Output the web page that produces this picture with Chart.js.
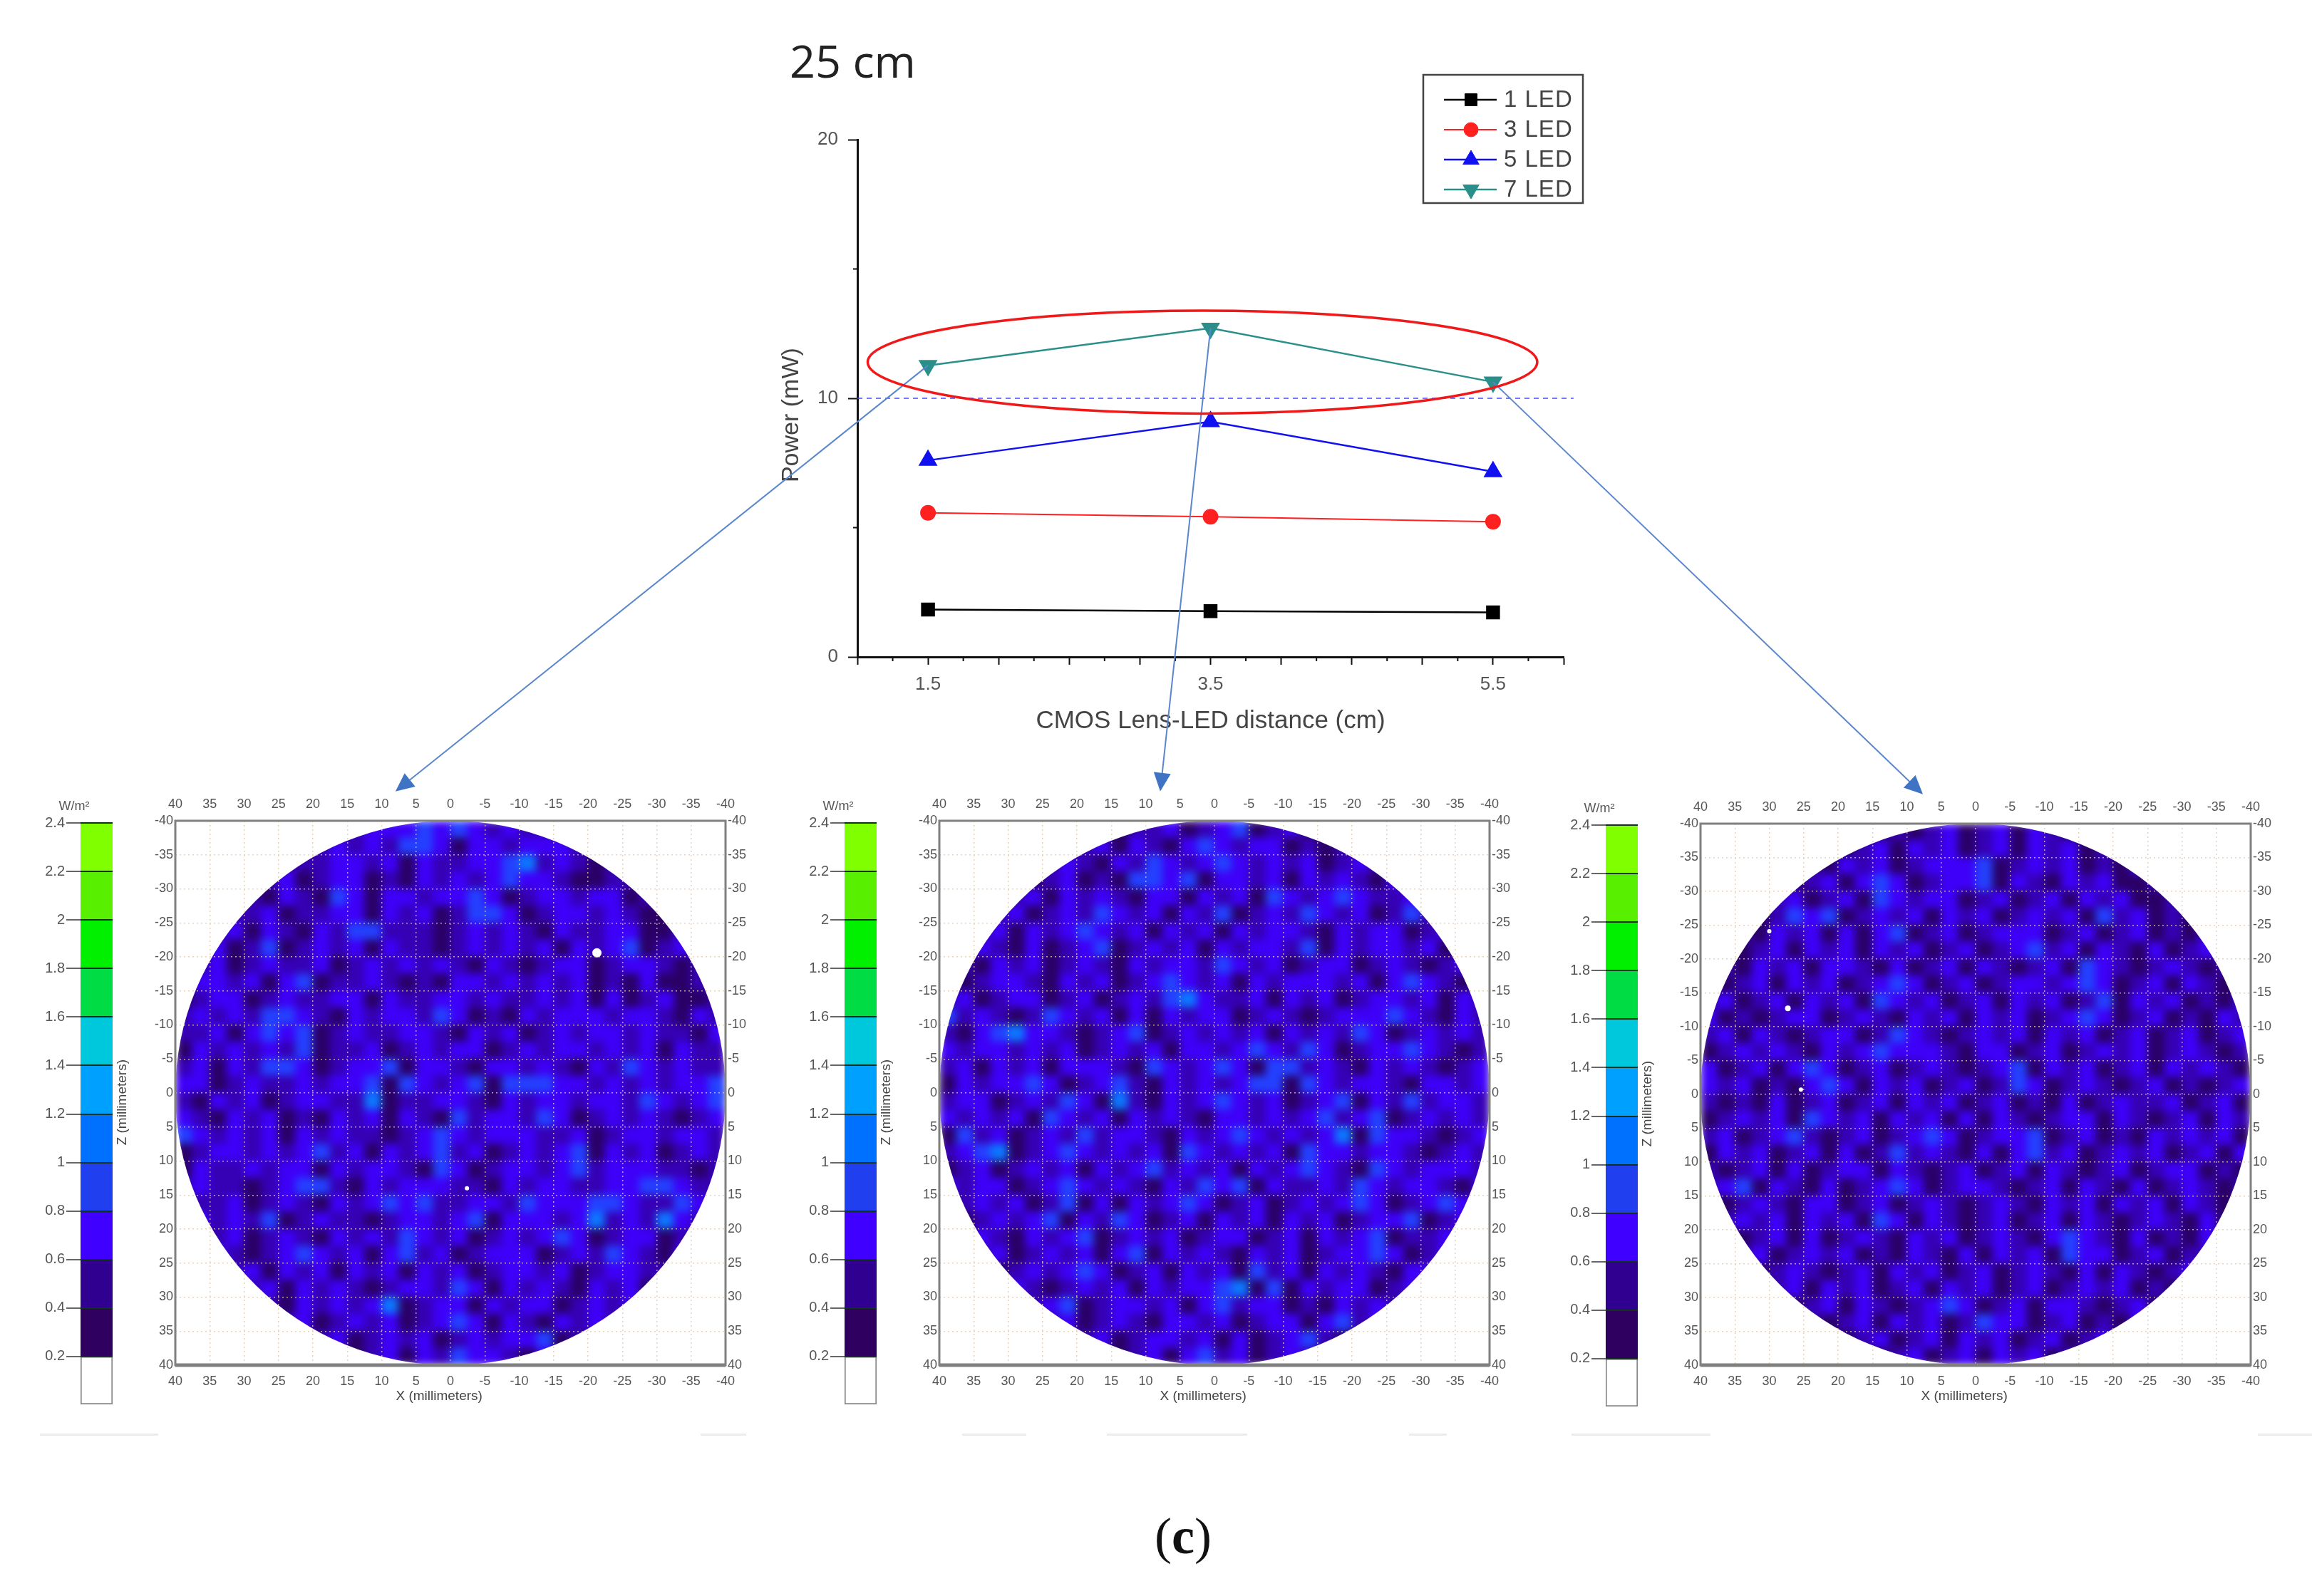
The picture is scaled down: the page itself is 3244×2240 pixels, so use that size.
<!DOCTYPE html>
<html>
<head>
<meta charset="UTF-8">
<title>25 cm</title>
<script src="https://cdn.jsdelivr.net/npm/chart.js@4.4.7/dist/chart.umd.min.js"></script>
<style>
  * { margin: 0; padding: 0; box-sizing: border-box; }
  html, body { width: 3244px; height: 2240px; background: #fff; overflow: hidden; }
  .box { position: absolute; }
  .box canvas { display: block; filter: blur(0.7px); }
  #title { left: 1108px; top: 54px; font: 63px/62px "Open Sans", sans-serif; color: #222; }
  #caption { left: 1620px; top: 2118px; width: 74px; text-align: center; font: 72px/76px "Liberation Serif", serif; color: #111; }
  .smudge { position: absolute; top: 2012px; height: 3px; }
</style>
</head>
<body>
<div class="box" id="title">25 cm</div>
<div class="box" id="caption">(<b>c</b>)</div>
<div class="box" id="lineBox" style="left:0;top:0;width:3244px;height:1125px"><canvas id="lineChart"></canvas></div>

<script>
// line chart values
const distances = [1.5, 3.5, 5.5];
const led1 = [1.83, 1.77, 1.72];
const led3 = [5.57, 5.42, 5.23];
const led5 = [7.6, 9.1, 7.16];
const led7 = [11.27, 12.71, 10.63];
const xTickLabels = ['1.5', '3.5', '5.5'];

// red ellipse and arrow ends, in line chart data units
const ellipseCenter = [3.443, 11.4];
const ellipseRadius = [2.37, 1.99];
const arrowEndX = [-2.27, 3.144, 8.543];
const arrowEndY = [-5.2, -5.2, -5.31];

// colour bar bands (W/m2), bottom to top
const bandTops = [0.2, 0.4, 0.6, 0.8, 1, 1.2, 1.4, 1.6, 1.8, 2, 2.2, 2.4];
const bandColors = ['#ffffff', '#300060', '#300090', '#4000ff', '#2040f0', '#0070ff', '#00a0ff', '#00c8dc', '#00dd44', '#00f000', '#58f000', '#7fff00'];

// irradiance maps, 2.5 mm cells, one digit per cell
// row 0 is z = -40, each row is centred on x = 0, digit -> levelColors
const levelColors = ['#2a0066', '#3600b4', '#3e00f8', '#2440ff', '#0c78ff'];
const map1Rows = [
  '122232321211',
  '1212133202212221',
  '11122120211223412101',
  '1201220102121232210011',
  '102103202212232012212201',
  '11201122021201332012212100',
  '1202102133111012121021122002',
  '2013012120211012121202123012',
  '120121120121212102101220122101',
  '221202301121010221212120102001',
  '01220121122021122121121202012001',
  '12121332102122132010212221221021',
  '11202323012112210212012122121102',
  '02121213011201212201212212120211',
  '12021332012230221022121021321211',
  '22012112122303212303332212121223',
  '10212012211401122102122122132123',
  '21021201021202103122132012121012',
  '32121202121101232122211201221221',
  '01221212312021231201212302120121',
  '02112122021221032012212312221101',
  '12110123310212221102122112233211',
  '112012102123231122132223321132',
  '212130121101221230222124121421',
  '1201210212132120121232012201',
  '2101232120231201222012132102',
  '12021202120212012212012211',
  '120212101221320212102120',
  '1021212401220212201212',
  '12012120123202102121',
  '1201212012122301',
  '012021322102'
];
const map2Rows = [
  '011201230120',
  '1202102321220101',
  '12102132123212120121',
  '0120103323022120212102',
  '120212102202120321232112',
  '12012132120213012132120131',
  '1202123212021202122102122012',
  '2102012301212021221302122120',
  '102120121021221321201220121012',
  '012210212012321202122212023210',
  '12012201201213421120212012212021',
  '31210132120202122012101222321021',
  '10234221012301212120212132012121',
  '21221212012120221232132012232101',
  '12021202221032123203312102121012',
  '02122320123102121233032122102212',
  '12201213204102123212012302131221',
  '21212032120212102212123123012121',
  '03120121312210212321212403221012',
  '12340123212120321212032212210121',
  '01201212021231212021232103212221',
  '21220123212102132302112132122102',
  '121201302021232012012123201232',
  '012123021320120212021201223012',
  '2102123012120122012021230112',
  '1201212023021210212012232012',
  '01212320120212031202121022',
  '210121202122340302122012',
  '1230122120231220102121',
  '12012102212012202312',
  '1201221202012310',
  '012023120121'
];
const map3Rows = [
  '010120120210',
  '0120212012021201',
  '10212012223012120102',
  '0120232012230210212001',
  '120120321220120120212001',
  '01323012120212012120312010',
  '1021202023012012220120120102',
  '0120212021201201231202102012',
  '102120221020120210120321012101',
  '012021201232012012212320120210',
  '12012021203212012021201302120102',
  '20101220121021202120123201201021',
  '12021012201321012120212012012012',
  '01212102123222102201201212012101',
  '20120232012012101230212012021210',
  '21201023202120120132012101201012',
  '10102012012021201201020121120120',
  '01212032120212020210122021012021',
  '12012310120123201223012010212120',
  '02120120201312102023120121201202',
  '10120201220210120120210120122010',
  '12302102012320122101202102012101',
  '012102201201210121021202120210',
  '121202120320210120120210121020',
  '0120201210212012102321020102',
  '1201212010210202120322012011',
  '01210120212012012102021012',
  '120212012021201201212010',
  '0120210123201202210120',
  '10120212013220120102',
  '0120120212012012',
  '012012021201'
];

// white specks, in mm
const map1SpotX = [-21.3, -2.4];
const map1SpotZ = [-20.6, 14.0];
const map1SpotSize = [6.5, 3];
const map2SpotX = [];
const map2SpotZ = [];
const map2SpotSize = [];
const map3SpotX = [30, 27.3, 25.4];
const map3SpotZ = [-24.1, -12.7, -0.7];
const map3SpotSize = [3, 4, 3];

const FONT = '"Liberation Sans", Arial, sans-serif';
const NBSP = '\u00a0';

// ellipse, arrows, minor ticks and the boxed legend of the line chart
const overlayPlugin = {
  id: 'overlay',
  afterDatasetsDraw(chart) {
    const { ctx } = chart;
    const xs = chart.scales.x, ys = chart.scales.y;
    ctx.save();

    ctx.strokeStyle = '#111';
    ctx.lineWidth = 2;
    for (let v = 1.25; v < 6; v += 0.5) {
      const px = xs.getPixelForValue(v);
      ctx.beginPath(); ctx.moveTo(px, ys.bottom); ctx.lineTo(px, ys.bottom + 6); ctx.stroke();
    }
    [5, 15].forEach(v => {
      const py = ys.getPixelForValue(v);
      ctx.beginPath(); ctx.moveTo(xs.left, py); ctx.lineTo(xs.left - 6, py); ctx.stroke();
    });

    // arrows leave the 7 LED points
    led7.forEach((v, i) => {
      const x0 = xs.getPixelForValue(distances[i]), y0 = ys.getPixelForValue(v);
      const x1 = xs.getPixelForValue(arrowEndX[i]), y1 = ys.getPixelForValue(arrowEndY[i]);
      const a = Math.atan2(y1 - y0, x1 - x0);
      ctx.strokeStyle = '#5b86cc';
      ctx.lineWidth = 2;
      ctx.beginPath(); ctx.moveTo(x0, y0); ctx.lineTo(x1 - 20 * Math.cos(a), y1 - 20 * Math.sin(a)); ctx.stroke();
      ctx.fillStyle = '#3f74c4';
      ctx.beginPath();
      ctx.moveTo(x1, y1);
      ctx.lineTo(x1 - 26 * Math.cos(a) + 12 * Math.sin(a), y1 - 26 * Math.sin(a) - 12 * Math.cos(a));
      ctx.lineTo(x1 - 26 * Math.cos(a) - 12 * Math.sin(a), y1 - 26 * Math.sin(a) + 12 * Math.cos(a));
      ctx.closePath();
      ctx.fill();
    });

    const cx = xs.getPixelForValue(ellipseCenter[0]), cy = ys.getPixelForValue(ellipseCenter[1]);
    const rx = Math.abs(xs.getPixelForValue(ellipseCenter[0] + ellipseRadius[0]) - cx);
    const ry = Math.abs(ys.getPixelForValue(ellipseCenter[1] + ellipseRadius[1]) - cy);
    ctx.strokeStyle = '#f01818';
    ctx.lineWidth = 3.5;
    ctx.beginPath(); ctx.ellipse(cx, cy, rx, ry, 0, 0, Math.PI * 2); ctx.stroke();

    // legend box
    ctx.strokeStyle = '#444';
    ctx.lineWidth = 2.5;
    ctx.strokeRect(1997, 105, 224, 180);
    const rowY = [140, 182, 224, 266];
    chart.data.datasets.slice(0, 4).forEach((ds, i) => {
      ctx.strokeStyle = ds.borderColor;
      ctx.lineWidth = ds.borderWidth;
      ctx.beginPath(); ctx.moveTo(2026, rowY[i]); ctx.lineTo(2100, rowY[i]); ctx.stroke();
      ctx.fillStyle = ds.pointBackgroundColor;
      ctx.strokeStyle = ds.pointBackgroundColor;
      ctx.lineWidth = 1;
      Chart.helpers.drawPoint(ctx, { pointStyle: ds.pointStyle, rotation: ds.pointRotation || 0, radius: ds.pointRadius, borderWidth: 1 }, 2064, rowY[i]);
      ctx.fillStyle = '#444';
      ctx.font = '33px ' + FONT;
      ctx.letterSpacing = '1px';
      ctx.textBaseline = 'middle';
      ctx.textAlign = 'left';
      ctx.fillText(ds.label, 2110, rowY[i] + 1);
    });
    ctx.restore();
  }
};

function series(label, values, color, width, style, radius, rotation) {
  return {
    label: label,
    data: values.map((v, i) => ({ x: distances[i], y: v })),
    showLine: true,
    borderColor: color,
    borderWidth: width,
    pointStyle: style,
    pointRadius: radius,
    pointRotation: rotation,
    pointBackgroundColor: color,
    pointBorderColor: color,
    tension: 0
  };
}

new Chart(document.getElementById('lineChart'), {
  type: 'scatter',
  data: {
    datasets: [
      series('1 LED', led1, '#000000', 2.5, 'rect', 12, 0),
      series('3 LED', led3, '#ff2020', 2, 'circle', 10, 0),
      series('5 LED', led5, '#1010f0', 2.5, 'triangle', 13, 0),
      series('7 LED', led7, '#2a8f8a', 2.5, 'triangle', 13, 180),
      {
        label: 'ref',
        data: [{ x: 1, y: 10 }, { x: 6.07, y: 10 }],
        showLine: true,
        clip: false,
        borderColor: '#4a4aff',
        borderWidth: 1.5,
        borderDash: [7, 6],
        pointRadius: 0
      }
    ]
  },
  options: {
    responsive: true,
    maintainAspectRatio: false,
    animation: false,
    layout: { padding: { left: 1090, right: 1050, top: 196, bottom: 92 } },
    plugins: { legend: { display: false }, tooltip: { enabled: false } },
    scales: {
      x: {
        type: 'linear', min: 1, max: 6,
        afterFit: s => { s.height = 111; },
        title: { display: true, text: 'CMOS Lens-LED distance (cm)', color: '#444', font: { family: FONT, size: 35 }, padding: 0 },
        border: { color: '#111', width: 3 },
        grid: { drawOnChartArea: false, tickLength: 11, tickColor: '#111', tickWidth: 2 },
        ticks: {
          stepSize: 0.5, autoSkip: false, maxRotation: 0, padding: 12, color: '#555',
          font: { family: FONT, size: 26 },
          callback: v => (xTickLabels.includes(v.toFixed(1)) ? v.toFixed(1) : '')
        }
      },
      y: {
        min: 0, max: 20,
        afterFit: s => { s.width = 113; },
        // trailing spaces move the centred title down the axis, as in the picture
        title: { display: true, text: 'Power (mW)' + NBSP.repeat(5), color: '#444', font: { family: FONT, size: 34 }, padding: 0 },
        border: { color: '#111', width: 3 },
        grid: { drawOnChartArea: false, tickLength: 13, tickColor: '#111', tickWidth: 2 },
        ticks: { stepSize: 10, padding: 14, color: '#555', font: { family: FONT, size: 26 } }
      }
    }
  },
  plugins: [overlayPlugin]
});

function snapshot(canvas) {
  const copy = document.createElement('canvas');
  copy.width = canvas.width;
  copy.height = canvas.height;
  copy.getContext('2d').drawImage(canvas, 0, 0);
  return copy;
}

// the cells get blurred once as a whole and cut to the 40 mm circle,
// what was on the canvas before them stays sharp. Frame goes on last.
const heatPlugin = {
  id: 'heatClip',
  beforeDatasetDraw(chart, args) {
    if (args.index === 0) chart.$before = snapshot(chart.canvas);
  },
  afterDatasetDraw(chart, args) {
    if (args.index !== 0) return;
    const { ctx, canvas } = chart;
    const xs = chart.scales.x, ys = chart.scales.y;
    const cells = snapshot(canvas);
    ctx.save();
    ctx.setTransform(1, 0, 0, 1, 0, 0);
    ctx.clearRect(0, 0, canvas.width, canvas.height);
    ctx.drawImage(chart.$before, 0, 0);
    ctx.beginPath();
    ctx.ellipse(xs.getPixelForValue(0), ys.getPixelForValue(0), xs.width / 2, ys.height / 2, 0, 0, Math.PI * 2);
    ctx.clip();
    ctx.filter = 'blur(6px)';
    ctx.drawImage(cells, 0, 0);
    ctx.restore();
  },
  afterDraw(chart) {
    const { ctx, chartArea: a } = chart;
    ctx.save();
    ctx.strokeStyle = '#808080';
    ctx.lineWidth = 3;
    ctx.strokeRect(a.left, a.top, a.right - a.left, a.bottom - a.top);
    ctx.lineWidth = 5;
    ctx.beginPath(); ctx.moveTo(a.left, a.bottom); ctx.lineTo(a.right, a.bottom); ctx.stroke();
    ctx.restore();
  }
};

function rowsToCells(rows) {
  const cells = [];
  rows.forEach((row, j) => {
    const full = row.padStart(row.length + Math.floor((32 - row.length) / 2), '0').padEnd(32, '0');
    for (let i = 0; i < 32; i++) {
      cells.push({ x: 40 - (i + 0.5) * 2.5, y: -40 + (j + 0.5) * 2.5, level: +full[i] });
    }
  });
  return cells;
}

function addBox(left, top, width, height) {
  const box = document.createElement('div');
  box.className = 'box';
  box.style.cssText = `left:${left}px;top:${top}px;width:${width}px;height:${height}px`;
  const canvas = document.createElement('canvas');
  box.appendChild(canvas);
  document.body.appendChild(box);
  return canvas;
}

function drawHeatmap(rows, spotX, spotZ, spotSize, mapLeft, mapTop, mapBottom) {
  const leftW = 86, rightW = 40, topH = 40, bottomH = 55, mapW = 772;
  const canvas = addBox(mapLeft - leftW, mapTop - topH, leftW + mapW + rightW, topH + (mapBottom - mapTop) + bottomH);
  const tickFont = { family: FONT, size: 18 };
  const gridLines = { color: 'rgba(228,200,170,0.8)', lineWidth: 1.5, z: 1, drawTicks: false };
  const gridBorder = { display: false, dash: [2, 4] };
  const noGrid = { display: false, drawTicks: false };
  const noBorder = { display: false };
  const ticks = { stepSize: 5, autoSkip: false, maxRotation: 0, color: '#555', font: tickFont };
  new Chart(canvas, {
    type: 'scatter',
    data: {
      datasets: [
        {
          label: 'W/m²',
          order: 1,
          data: rowsToCells(rows),
          pointStyle: 'rect',
          pointRadius: c => c.chart.scales.x.width / 32 / Math.SQRT2 * 1.04,
          pointBorderWidth: 0,
          pointBackgroundColor: c => levelColors[c.raw.level],
          xAxisID: 'x', yAxisID: 'y'
        },
        {
          label: 'specks',
          order: 0,
          data: spotX.map((x, i) => ({ x: x, y: spotZ[i] })),
          pointStyle: 'circle',
          pointRadius: spotSize,
          pointBorderWidth: 0,
          pointBackgroundColor: '#ffffff',
          xAxisID: 'x', yAxisID: 'y'
        }
      ]
    },
    options: {
      responsive: true,
      maintainAspectRatio: false,
      animation: false,
      layout: { padding: 0 },
      plugins: { legend: { display: false }, tooltip: { enabled: false } },
      scales: {
        x: {
          type: 'linear', position: 'bottom', min: -40, max: 40, reverse: true,
          afterFit: s => { s.height = bottomH; },
          title: { display: true, text: 'X (millimeters)' + NBSP.repeat(6), color: '#444', font: { family: FONT, size: 19 }, padding: 0 },
          border: gridBorder,
          grid: gridLines,
          ticks: { ...ticks, padding: 12 }
        },
        xTop: {
          type: 'linear', axis: 'x', position: 'top', min: -40, max: 40, reverse: true,
          afterFit: s => { s.height = topH; },
          border: noBorder, grid: noGrid,
          ticks: { ...ticks, padding: 12 }
        },
        y: {
          type: 'linear', position: 'left', min: -40, max: 40, reverse: true,
          afterFit: s => { s.width = leftW; },
          title: { display: true, text: 'Z (millimeters)' + NBSP.repeat(5), color: '#444', font: { family: FONT, size: 19 }, padding: 0 },
          border: gridBorder,
          grid: gridLines,
          ticks: { ...ticks, padding: 3 }
        },
        yRight: {
          type: 'linear', axis: 'y', position: 'right', min: -40, max: 40, reverse: true,
          afterFit: s => { s.width = rightW; },
          border: noBorder, grid: noGrid,
          ticks: { ...ticks, padding: 3 }
        }
      }
    },
    plugins: [heatPlugin]
  });
}

function drawColorBar(left, top) {
  const canvas = addBox(left - 63, top - 40, 115, 871);
  new Chart(canvas, {
    type: 'bar',
    data: {
      labels: ['W/m²'],
      datasets: bandTops.map((t, i) => ({
        data: [0.2],
        backgroundColor: bandColors[i],
        borderColor: i === 0 ? '#888888' : bandColors[i],
        borderWidth: i === 0 ? 2 : 0,
        borderSkipped: false,
        barPercentage: 1,
        categoryPercentage: 1
      }))
    },
    options: {
      responsive: true,
      maintainAspectRatio: false,
      animation: false,
      layout: { padding: { right: 7, bottom: 3 } },
      plugins: {
        legend: { display: false },
        tooltip: { enabled: false },
        title: { display: true, text: 'W/m²', color: '#555', font: { family: FONT, size: 18, weight: 'normal' }, padding: { top: 6, bottom: 12.4 } }
      },
      scales: {
        x: { stacked: true, display: false },
        y: {
          stacked: true, min: 0, max: 2.4,
          afterFit: s => { s.width = 63; },
          border: { display: false },
          grid: {
            color: c => (c.tick.value < 0.1 ? 'transparent' : '#12301a'),
            lineWidth: 2, z: 1, tickLength: 20, tickWidth: 2,
            tickColor: c => (c.tick.value < 0.1 ? 'transparent' : '#666')
          },
          ticks: {
            stepSize: 0.2, autoSkip: false, padding: 2, color: '#555',
            font: { family: FONT, size: 20 },
            callback: v => (v < 0.1 ? '' : String(+v.toFixed(1)))
          }
        }
      }
    }
  });
}

drawColorBar(113, 1155);
drawColorBar(1185, 1155);
drawColorBar(2253, 1158);
drawHeatmap(map1Rows, map1SpotX, map1SpotZ, map1SpotSize, 246, 1152, 1916);
drawHeatmap(map2Rows, map2SpotX, map2SpotZ, map2SpotSize, 1318, 1152, 1916);
drawHeatmap(map3Rows, map3SpotX, map3SpotZ, map3SpotSize, 2386, 1156, 1916);

// faint scan leftovers under the panels
const smudgeLeft = [56, 983, 1350, 1553, 1977, 2205, 3168];
const smudgeRight = [222, 1047, 1440, 1750, 2030, 2400, 3244];
smudgeLeft.forEach((l, i) => {
  const d = document.createElement('div');
  d.className = 'smudge';
  d.style.cssText = `left:${l}px;width:${smudgeRight[i] - l}px;background:#ececec`;
  document.body.appendChild(d);
});
</script>
</body>
</html>
